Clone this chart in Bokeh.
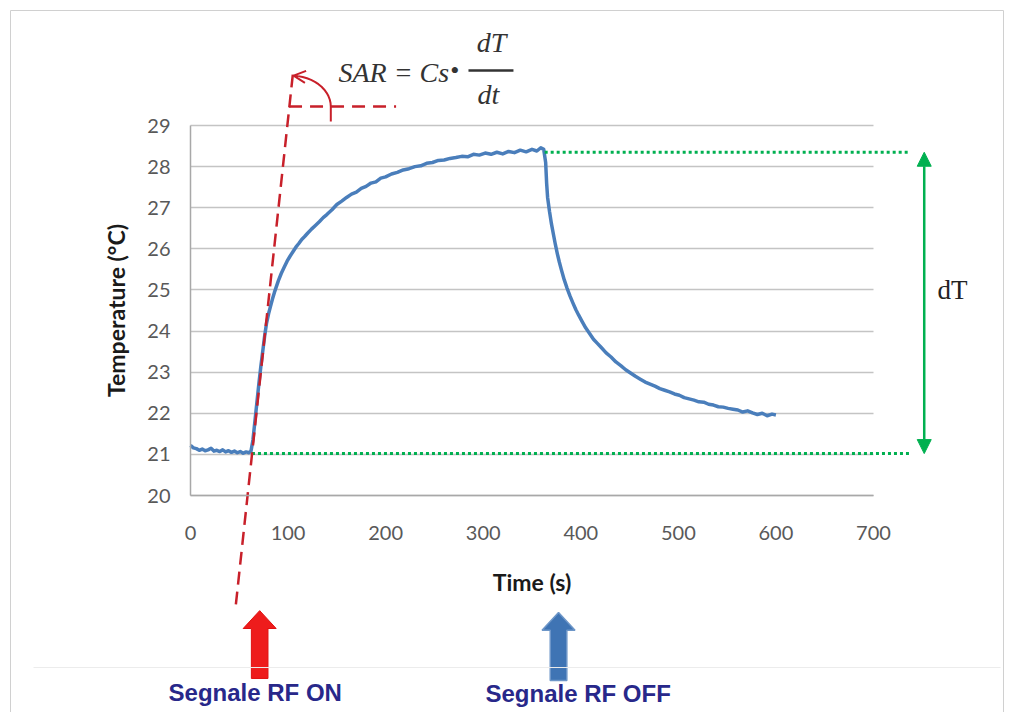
import numpy as np
from bokeh.plotting import figure
from bokeh.models import Range1d, FixedTicker, Arrow, NormalHead, OpenHead, Label
from bokeh.embed import file_html
from bokeh.resources import INLINE

# ---------------- data ----------------
time_s = [0, 3, 6, 9, 12, 15, 18, 21, 24, 27, 30, 33, 36, 39, 42, 45, 48, 51, 54, 57, 60, 62,
          64, 66, 68, 70, 72, 74, 76, 78, 80, 82, 84, 86, 88, 90, 93, 96, 99, 102, 105, 108,
          111, 114, 117, 120, 124, 128, 132, 136, 140, 145, 150, 155, 160, 165, 170, 175, 180,
          185, 190, 195, 200, 206, 212, 218, 224, 230, 236, 242, 248, 254, 260, 266, 272, 278,
          284, 290, 296, 302, 308, 314, 320, 326, 332, 338, 344, 350, 355, 359, 362,
          364, 365, 366, 368, 370, 372, 374, 376, 378, 380, 383, 386, 389, 392, 395, 398, 401,
          405, 409, 413, 417, 421, 426, 431, 436, 441, 446, 451, 456, 461, 466, 471, 476, 481,
          486, 491, 496, 501, 506, 511, 516, 521, 526, 531, 536, 541, 546, 551, 556, 561, 566,
          571, 576, 581, 586, 591, 596, 600]
temp_c = [21.22, 21.16, 21.14, 21.10, 21.13, 21.09, 21.11, 21.15, 21.08, 21.10, 21.07, 21.11,
          21.06, 21.09, 21.05, 21.08, 21.04, 21.07, 21.03, 21.06, 21.04, 21.08,
          21.35, 21.80, 22.25, 22.70, 23.12, 23.50, 23.88, 24.20, 24.42, 24.60, 24.78, 24.94,
          25.08, 25.22, 25.40, 25.55, 25.70, 25.82, 25.93, 26.04, 26.13, 26.23, 26.30, 26.38,
          26.48, 26.57, 26.66, 26.76, 26.84, 26.95, 27.08, 27.16, 27.25, 27.33, 27.38, 27.47,
          27.52, 27.60, 27.63, 27.72, 27.75, 27.82, 27.86, 27.92, 27.95, 28.00, 28.02, 28.08,
          28.10, 28.15, 28.16, 28.20, 28.22, 28.25, 28.24, 28.30, 28.28, 28.33, 28.30, 28.35,
          28.31, 28.37, 28.34, 28.40, 28.36, 28.42, 28.38, 28.46, 28.42,
          28.10, 27.60, 27.25, 26.90, 26.60, 26.35, 26.10, 25.88, 25.68, 25.50, 25.25, 25.04,
          24.85, 24.68, 24.52, 24.38, 24.25, 24.08, 23.94, 23.80, 23.70, 23.60, 23.47, 23.37,
          23.25, 23.16, 23.06, 22.98, 22.90, 22.83, 22.76, 22.71, 22.66, 22.60, 22.56, 22.52,
          22.47, 22.44, 22.38, 22.35, 22.32, 22.28, 22.27, 22.22, 22.20, 22.16, 22.15, 22.12,
          22.10, 22.08, 22.03, 22.06, 22.01, 21.97, 22.00, 21.94, 21.98, 21.96]

x_ticks = [0, 100, 200, 300, 400, 500, 600, 700]
y_ticks = [20, 21, 22, 23, 24, 25, 26, 27, 28, 29]
x_bounds = (0, 700)
y_bounds = (20, 29)

# annotation values (data units)
tangent_t = [46.5, 105.0]
tangent_T = [17.35, 30.27]
ref_line_t = [101.0, 210.7]
ref_line_T = 29.46
baseline_T = 21.02
baseline_t = [63.0, 738.0]
plateau_T = 28.35
plateau_t = [363.0, 737.0]
dT_arrow_t = 752.0
rf_on_t = 70.9
rf_off_t = 377.2

BLUE = "#4a7ebb"
GREEN = "#00b050"
RED = "#c8202a"
NAVY = "#28288a"

# The frame fills the whole canvas (so that notes outside the axes box are not clipped);
# the axes are pinned at T=20 and t=0 with fixed_location and limited with bounds.
p = figure(width=1010, height=712, x_range=Range1d(-194.73, 840.42), y_range=Range1d(14.722, 32.041),
           output_backend="svg", toolbar_location=None, title=None,
           min_border_left=0, min_border_right=0, min_border_top=0, min_border_bottom=0,
           background_fill_color="white", border_fill_color="white")
p.outline_line_color = None

p.xgrid.visible = False
g = p.ygrid[0]
if "cross_bounds" in g.properties():
    g.ticker = FixedTicker(ticks=y_ticks)
    g.bounds = y_bounds
    g.cross_bounds = x_bounds
    g.grid_line_color = "#c4c4c4"
    g.grid_line_width = 1.5
else:
    g.visible = False
    p.segment(x0=x_bounds[0], x1=x_bounds[1], y0=y_ticks, y1=y_ticks, line_color="#c4c4c4", line_width=1.5)

for ax in (p.xaxis[0], p.yaxis[0]):
    ax.major_tick_line_color = None
    ax.minor_tick_line_color = None
    ax.axis_line_color = "#a8a8a8"
    ax.axis_line_width = 1.5
    ax.major_label_text_font = "Lato"
    ax.major_label_text_font_size = "20px"
    ax.major_label_text_color = "#595959"
    ax.axis_label_text_font = "Lato"
    ax.axis_label_text_font_style = "bold"
    ax.axis_label_text_font_size = "23px"
    ax.axis_label_text_color = "#1a1a1a"

p.xaxis.ticker = FixedTicker(ticks=x_ticks)
p.yaxis.ticker = FixedTicker(ticks=y_ticks)
p.xaxis.bounds = x_bounds
p.yaxis.bounds = y_bounds
p.xaxis.fixed_location = y_bounds[0]
p.yaxis.fixed_location = x_bounds[0]
p.xaxis.axis_label = "Time (s)"
p.yaxis.axis_label = "Temperature (°C)"
p.xaxis.major_label_standoff = 24
p.xaxis.axis_label_standoff = 25
p.yaxis.major_label_standoff = 14
p.yaxis.axis_label_standoff = 14

# ---- the measured curve ----
p.line(time_s, temp_c, line_color=BLUE, line_width=3.5, line_join="round")

# ---- green dT markers ----
p.line(baseline_t, [baseline_T, baseline_T], line_color=GREEN, line_width=3, line_dash="3 3")
p.line(plateau_t, [plateau_T, plateau_T], line_color=GREEN, line_width=3, line_dash="3 3")
p.add_layout(Arrow(start=NormalHead(size=14, fill_color=GREEN, line_color=GREEN),
                   end=NormalHead(size=14, fill_color=GREEN, line_color=GREEN),
                   x_start=dT_arrow_t, y_start=baseline_T, x_end=dT_arrow_t, y_end=plateau_T,
                   line_color=GREEN, line_width=2.5))
p.add_layout(Label(x=765.6, y=25.01, text="dT", text_font="Liberation Serif", text_font_size="27px",
                   text_color="#222222", text_align="left", text_baseline="alphabetic"))

# ---- red tangent and angle ----
p.line(tangent_t, tangent_T, line_color=RED, line_width=2.5, line_dash="13 7")
p.line(ref_line_t, [ref_line_T, ref_line_T], line_color=RED, line_width=2.5, line_dash="13 8")
arc_ct, arc_cT = 102.8, ref_line_T
arc_rt, arc_rT = 41.0, 0.754
ang = np.radians(np.linspace(0, 86, 14))
arc_t = arc_ct + arc_rt * np.cos(ang)
arc_T = arc_cT + arc_rT * np.sin(ang)
p.line([arc_t[0]] + list(arc_t[:-1]), [arc_cT - 0.36] + list(arc_T[:-1]), line_color=RED, line_width=2)
p.add_layout(Arrow(end=OpenHead(size=12, line_color=RED, line_width=2),
                   x_start=arc_t[-2], y_start=arc_T[-2], x_end=arc_t[-1], y_end=arc_T[-1],
                   line_color=RED, line_width=2))

# ---- formula ----
FORM = "#333333"
p.add_layout(Label(x=151.7, y=30.30, text="SAR = Cs", text_font="Liberation Serif", text_font_size="28px",
                   text_font_style="italic", text_color=FORM, text_align="left", text_baseline="alphabetic"))
p.add_layout(Label(x=271.0, y=30.34, text="•", text_font="Liberation Serif", text_font_size="26px",
                   text_color=FORM, text_align="center", text_baseline="middle"))
p.add_layout(Label(x=308.5, y=31.02, text="dT", text_font="Liberation Serif", text_font_size="28px",
                   text_font_style="italic", text_color=FORM, text_align="center", text_baseline="alphabetic"))
p.add_layout(Label(x=305.4, y=29.754, text="dt", text_font="Liberation Serif", text_font_size="28px",
                   text_font_style="italic", text_color=FORM, text_align="center", text_baseline="alphabetic"))
p.line([284.9, 331.0], [30.34, 30.34], line_color=FORM, line_width=2.5)

# ---- RF arrows ----
def arrow_poly(c, head_w, shaft_w, tip, base, bottom):
    xs = [c - shaft_w / 2, c - shaft_w / 2, c - head_w / 2, c, c + head_w / 2, c + shaft_w / 2, c + shaft_w / 2]
    ys = [bottom, base, base, tip, base, base, bottom]
    return xs, ys

xs, ys = arrow_poly(rf_on_t, 33.8, 17.0, 17.20, 16.765, 15.55)
p.patch(xs, ys, fill_color="#ee1c1c", line_color="#e01010", line_width=1)
xs, ys = arrow_poly(rf_off_t, 33.8, 17.0, 17.154, 16.72, 15.50)
p.patch(xs, ys, fill_color="#3f74b4", line_color="#6d96c8", line_width=1.5)

p.add_layout(Label(x=-22.5, y=15.21, text="Segnale RF ON", text_font="Liberation Sans", text_font_size="24px",
                   text_font_style="bold", text_color=NAVY, text_align="left", text_baseline="alphabetic"))
p.add_layout(Label(x=302.3, y=15.19, text="Segnale RF OFF", text_font="Liberation Sans", text_font_size="24px",
                   text_font_style="bold", text_color=NAVY, text_align="left", text_baseline="alphabetic"))

# ---- frame of the picture ----
BORDER = "#d0d0d0"
p.line([-184.48, -184.48, 833.25, 833.25], [14.722, 31.797, 31.797, 14.722], line_color=BORDER, line_width=1)
p.line([-160.9, 830.2], [15.816, 15.816], line_color="#ececec", line_width=1)

open("out.html", "w").write(file_html(p, INLINE))
